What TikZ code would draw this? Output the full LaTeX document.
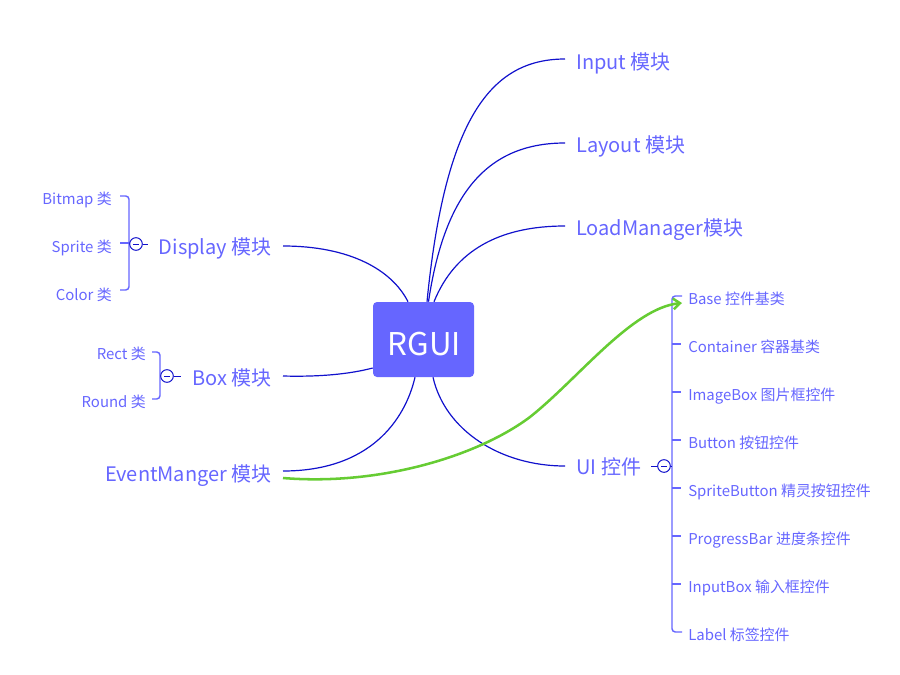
\documentclass[tikz,border=0pt]{standalone}
\usepackage{fontspec}
\setmainfont{Noto Sans CJK SC}
\usetikzlibrary{arrows.meta,calc}
\definecolor{txt}{RGB}{102,102,255}
\definecolor{conn}{RGB}{17,17,204}
\definecolor{brk}{RGB}{102,102,255}
\definecolor{grn}{RGB}{102,204,51}
\begin{document}
\begin{tikzpicture}[x=0.75pt,y=-0.75pt,
  main/.style={text=txt,font=\fontsize{15}{18}\selectfont,inner sep=0pt},
  item/.style={text=txt,font=\fontsize{11.2}{13}\selectfont,inner sep=0pt},
  link/.style={draw=conn,line width=0.9pt},
  brack/.style={draw=brk,line width=1.1pt,rounded corners=2.5pt},
  tick/.style={draw=brk,line width=1.1pt},
  fold/.style={draw=conn,line width=0.75pt,fill=white,circle,inner sep=0pt,minimum size=9.5pt},
  stub/.style={draw=conn,line width=0.75pt},
  assoc/.style={draw=grn,line width=1.9pt,-{Straight Barb[length=5pt,width=8pt]}}
]
\useasboundingbox (0,0) rectangle (900,675);

% central topic
\node[fill=txt,rounded corners=3pt,minimum width=75.75pt,minimum height=56.25pt,inner sep=0pt] (rgui) at (423.5,339.5) {};
\node[text=white,font=\fontsize{23.5}{28}\selectfont,inner sep=0pt,anchor=base] (rguit) at (424.5,355) {RGUI};

% main branches
\node[main,anchor=base west] (input) at (576,69) {Input 模块};
\node[main,anchor=base west] (layout) at (576,152) {Layout 模块};
\node[main,anchor=base west] (loadm) at (576,235) {LoadManager模块};
\node[main,anchor=base west] (ui) at (576,474) {UI 控件};
\node[main,anchor=base east] (disp) at (272,254) {Display 模块};
\node[main,anchor=base east] (boxm) at (272,385) {Box 模块};
\node[main,anchor=base east] (evm) at (272,481) {EventManger 模块};

% connector ends
\coordinate (iE) at (565,59);
\coordinate (lE) at (565,143);
\coordinate (mE) at (565,226);
\coordinate (uE) at (565,466);
\coordinate (dE) at (283,246);
\coordinate (bE) at (283,376);
\coordinate (eE) at (283,471);
\coordinate (gS) at (283,478);
\coordinate (gM) at (530,417);

\draw[link] ($(rgui.north)+(3.5,0)$) .. controls (445,120) and (490,59) .. (iE);
\draw[link] ($(rgui.north)+(5,0)$) .. controls (445,190) and (490,143) .. (lE);
\draw[link] ($(rgui.north)+(10.5,0)$) .. controls (455,250) and (500,226) .. (mE);
\draw[link] ($(rgui.south)+(9.5,0)$) .. controls (445,430) and (500,466) .. (uE);
\draw[link] ($(rgui.north)+(-15.5,0)$) .. controls (392,270) and (350,246) .. (dE);
\draw[link] ($(rgui.west)+(0,28.5)$) .. controls (350,374) and (320,377) .. (bE);
\draw[link] ($(rgui.south)+(-8.5,0)$) .. controls (405,420) and (370,471) .. (eE);

% Display children
\node[item,anchor=base east] (bmp) at (112,204) {Bitmap 类};
\node[item,anchor=base east] (spr) at (112,252) {Sprite 类};
\node[item,anchor=base east] (col) at (112,300) {Color 类};
\draw[brack] (120,196) -- (129,196) -- (129,290) -- (120,290);
\draw[tick] (120,243) -- (129.5,243);
\node[fold] (fd) at (136,244) {};
\draw[stub] (fd.east) -- (148,244);
\draw[conn,line width=0.75pt] (133,244) -- (139,244);

% Box children
\node[item,anchor=base east] (rect) at (146,359) {Rect 类};
\node[item,anchor=base east] (rnd) at (146,407) {Round 类};
\draw[brack] (152,352) -- (160,352) -- (160,399) -- (152,399);
\node[fold] (fb) at (167,376) {};
\draw[stub] (fb.east) -- (181,376);
\draw[conn,line width=0.75pt] (164,376) -- (170,376);

% UI children
\node[item,anchor=base west] (u1) at (688,304) {Base 控件基类};
\node[item,anchor=base west] (u2) at (688,352) {Container 容器基类};
\node[item,anchor=base west] (u3) at (688,400) {ImageBox 图片框控件};
\node[item,anchor=base west] (u4) at (688,448) {Button 按钮控件};
\node[item,anchor=base west] (u5) at (688,496) {SpriteButton 精灵按钮控件};
\node[item,anchor=base west] (u6) at (688,544) {ProgressBar 进度条控件};
\node[item,anchor=base west] (u7) at (688,592) {InputBox 输入框控件};
\node[item,anchor=base west] (u8) at (688,640) {Label 标签控件};
\draw[brack] (682,296) -- (672,296) -- (672,632) -- (682,632);
\foreach \yy in {344,392,440,488,536,584} \draw[tick] (672,\yy) -- (681,\yy);
\draw[stub] (651,466) -- (657.5,466);
\node[fold] (fu) at (664,466) {};
\draw[stub] (fu.east) -- (672,466);
\draw[conn,line width=0.75pt] (661,466) -- (667,466);

% association
\draw[assoc] (gS) .. controls (380,486) and (478,456) .. (gM) .. controls (578,379) and (632,308) .. (682,303);
\end{tikzpicture}
\end{document}
